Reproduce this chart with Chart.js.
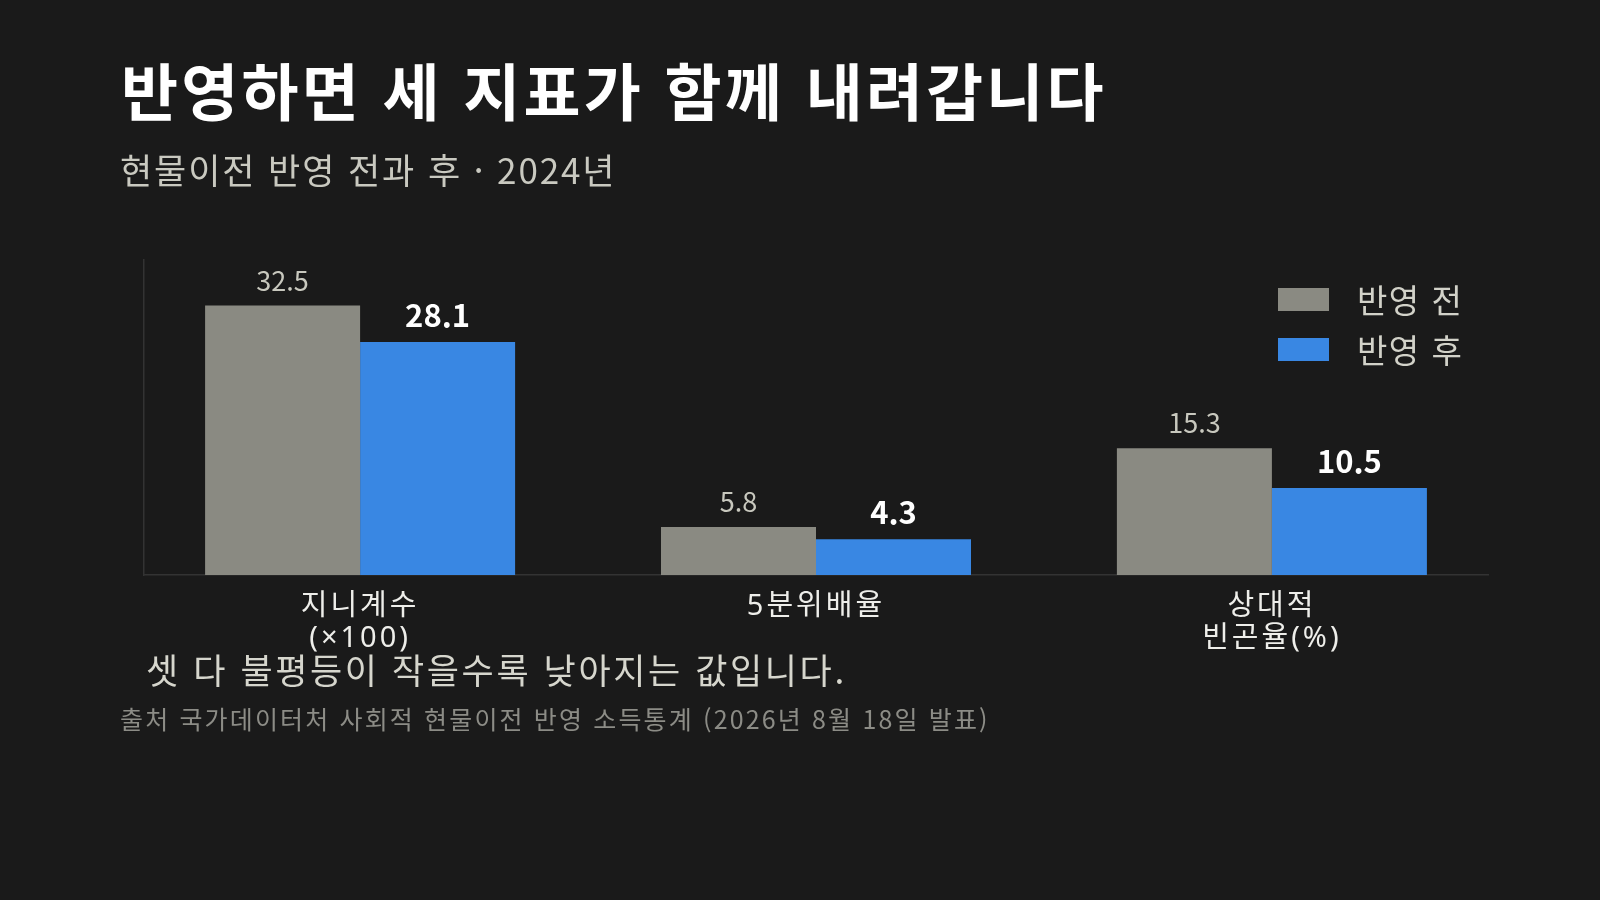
<!DOCTYPE html>
<html lang="ko">
<head>
<meta charset="utf-8">
<title>현물이전 반영 전과 후</title>
<script src="https://cdn.jsdelivr.net/npm/chart.js@4.4.1/dist/chart.umd.min.js"></script>
<style>
  html, body {
    margin: 0;
    padding: 0;
    background: #1a1a1a;
    font-family: "Noto Sans CJK KR", "Noto Sans", sans-serif;
  }
  #page {
    position: relative;
    width: 1600px;
    height: 900px;
    overflow: hidden;
  }
  #chart {
    position: absolute;
    left: 0;
    top: 0;
  }
  .txt {
    position: absolute;
    white-space: nowrap;
    line-height: 1;
  }
  #title { left: 121px; top: 58px; font-size: 62px; font-weight: 700; color: #ffffff; letter-spacing: 3.2px; }
  #subtitle { left: 120px; top: 151px; font-size: 35px; color: #c9c9c0; letter-spacing: 1.9px; }
  #note { left: 146px; top: 651px; font-size: 35px; color: #d6d6cd; letter-spacing: 2.6px; }
  #source { left: 120px; top: 706px; font-size: 25px; color: #8c8c86; letter-spacing: 2.15px; }
  #legend { position: absolute; left: 1278px; top: 274px; }
  .leg-row { display: flex; align-items: center; height: 50px; }
  .leg-box { width: 51px; height: 23px; margin-right: 28px; }
  .leg-label { font-size: 33px; color: #d2d2c9; letter-spacing: 1.5px; }
</style>
</head>
<body>
<div id="page">
  <canvas id="chart" width="1600" height="900"></canvas>
  <div class="txt" id="title">반영하면 세 지표가 함께 내려갑니다</div>
  <div class="txt" id="subtitle">현물이전 반영 전과 후 · 2024년</div>
  <div id="legend"></div>
  <div class="txt" id="note">셋 다 불평등이 작을수록 낮아지는 값입니다.</div>
  <div class="txt" id="source">출처 국가데이터처 사회적 현물이전 반영 소득통계 (2026년 8월 18일 발표)</div>
</div>

<script>
// ── data ──
const categories = [['지니계수', '(×100)'], '5분위배율', ['상대적', '빈곤율(%)']];
const seriesNames = ['반영 전', '반영 후'];
const beforeValues = [32.5, 5.8, 15.3];
const afterValues = [28.1, 4.3, 10.5];

const GREY = '#8a8a82';
const BLUE = '#3987e3';

// bars sit on a linear x axis so the frame can be a bit tighter than the categories
const toPoints = vals => vals.map((v, i) => ({ x: i, y: v }));

// ── legend (html) ──
const legend = document.getElementById('legend');
[GREY, BLUE].forEach((c, i) => {
  const row = document.createElement('div');
  row.className = 'leg-row';
  row.innerHTML = '<div class="leg-box" style="background:' + c + '"></div>' +
    '<div class="leg-label">' + seriesNames[i] + '</div>';
  legend.appendChild(row);
});

// ── a little letter spacing for the axis labels (wider hangul look) ──
const tickSpacing = {
  id: 'tickSpacing',
  beforeDraw(chart) { chart.ctx.letterSpacing = '3px'; },
  beforeDatasetsDraw(chart) { chart.ctx.letterSpacing = '0px'; }
};

// ── value labels above bars ──
const valueLabels = {
  id: 'valueLabels',
  afterDatasetsDraw(chart) {
    const ctx = chart.ctx;
    ctx.save();
    ctx.textAlign = 'center';
    ctx.textBaseline = 'middle';
    chart.data.datasets.forEach((ds, di) => {
      const meta = chart.getDatasetMeta(di);
      meta.data.forEach((bar, i) => {
        const v = ds.data[i].y;
        if (di === 0) {
          ctx.font = '400 27px "Noto Sans CJK KR", sans-serif';
          ctx.fillStyle = '#c8c8be';
          ctx.fillText(v.toFixed(1), bar.x, bar.y - 25);
        } else {
          ctx.font = '700 31px "Noto Sans CJK KR", sans-serif';
          ctx.fillStyle = '#ffffff';
          ctx.fillText(v.toFixed(1), bar.x, bar.y - 27);
        }
      });
    });
    ctx.restore();
  }
};

new Chart(document.getElementById('chart').getContext('2d'), {
  type: 'bar',
  data: {
    datasets: [
      { label: seriesNames[0], data: toPoints(beforeValues), backgroundColor: GREY, borderWidth: 0 },
      { label: seriesNames[1], data: toPoints(afterValues), backgroundColor: BLUE, borderWidth: 0 }
    ]
  },
  options: {
    responsive: false,
    devicePixelRatio: 1,
    animation: false,
    categoryPercentage: 0.68,
    barPercentage: 1.0,
    layout: { padding: { left: 144, right: 112, top: 260, bottom: 225 } },
    plugins: {
      legend: { display: false },
      tooltip: { enabled: false }
    },
    scales: {
      x: {
        type: 'linear',
        offset: false,
        min: -0.474,
        max: 2.474,
        afterBuildTicks: s => { s.ticks = categories.map((_, i) => ({ value: i })); },
        afterFit: s => { s.height = 100; },
        grid: { display: false, drawTicks: false, offset: false },
        border: { display: true, color: '#333333', width: 1.5 },
        ticks: {
          padding: 16,
          color: '#eeeeea',
          font: { family: '"Noto Sans", "Noto Sans CJK KR", sans-serif', size: 29, lineHeight: 1.1 },
          maxRotation: 0,
          autoSkip: false,
          callback: v => categories[v]
        }
      },
      y: {
        min: 0,
        max: 38,
        afterFit: s => { s.width = 0; },
        grid: { display: false, drawTicks: false },
        border: { display: true, color: '#333333', width: 1.5 },
        ticks: { display: false }
      }
    }
  },
  plugins: [tickSpacing, valueLabels]
});
</script>
</body>
</html>
